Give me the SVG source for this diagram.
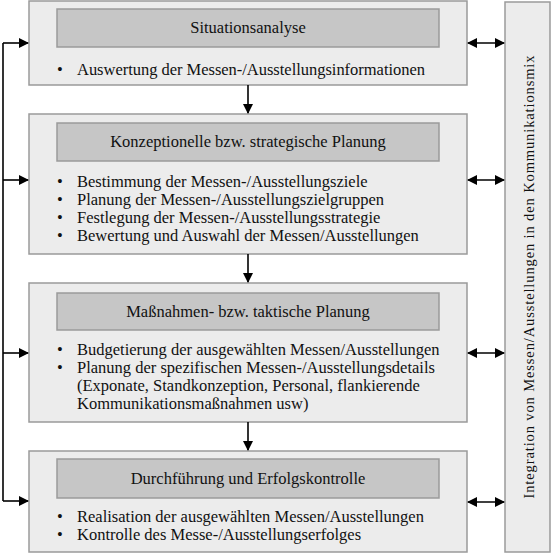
<svg xmlns="http://www.w3.org/2000/svg" width="552" height="554" viewBox="0 0 552 554">
<style>
.box{fill:#ececec;stroke:#9a9a9a;stroke-width:1.5}
.hdr{fill:#c6c6c6;stroke:#9a9a9a;stroke-width:1.5}
.t{font-family:"Liberation Serif","Times New Roman",serif;font-size:16.5px;fill:#111}
.c{text-anchor:middle}
.ln{stroke:#000;stroke-width:1.6;fill:none}
</style>
<defs>
<marker id="ah" markerWidth="10" markerHeight="10" refX="9" refY="5" orient="auto-start-reverse" markerUnits="userSpaceOnUse">
<path d="M0,0 L10,5 L0,10 z" fill="#000"/>
</marker>
</defs>
<g id="panel">
<rect class="box" x="505" y="2" width="45" height="550"/>
<text class="t c" style="font-size:14.5px" transform="translate(534,277) rotate(-90)" textLength="443">Integration von Messen/Ausstellungen in den Kommunikationsmix</text>
</g>
<g id="node1">
<rect class="box" x="29" y="1" width="438" height="84"/>
<rect class="hdr" x="57" y="9" width="382" height="38"/>
<text class="t c" x="248" y="33">Situationsanalyse</text>
<text class="t" x="57" y="75">•</text>
<text class="t" x="77" y="75" textLength="348">Auswertung der Messen-/Ausstellungsinformationen</text>
</g>
<g id="node2">
<rect class="box" x="29" y="114" width="438" height="140"/>
<rect class="hdr" x="57" y="123" width="382" height="38"/>
<text class="t c" x="248" y="147">Konzeptionelle bzw. strategische Planung</text>
<text class="t" x="57" y="187">•</text><text class="t" x="77" y="187">Bestimmung der Messen-/Ausstellungsziele</text>
<text class="t" x="57" y="205">•</text><text class="t" x="77" y="205">Planung der Messen-/Ausstellungszielgruppen</text>
<text class="t" x="57" y="223">•</text><text class="t" x="77" y="223">Festlegung der Messen-/Ausstellungsstrategie</text>
<text class="t" x="57" y="241">•</text><text class="t" x="77" y="241">Bewertung und Auswahl der Messen/Ausstellungen</text>
</g>
<g id="node3">
<rect class="box" x="29" y="283" width="438" height="139"/>
<rect class="hdr" x="57" y="293" width="382" height="37"/>
<text class="t c" x="248" y="317">Maßnahmen- bzw. taktische Planung</text>
<text class="t" x="57" y="355">•</text><text class="t" x="77" y="355">Budgetierung der ausgewählten Messen/Ausstellungen</text>
<text class="t" x="57" y="373">•</text><text class="t" x="77" y="373">Planung der spezifischen Messen-/Ausstellungsdetails</text>
<text class="t" x="77" y="391">(Exponate, Standkonzeption, Personal, flankierende</text>
<text class="t" x="77" y="409">Kommunikationsmaßnahmen usw)</text>
</g>
<g id="node4">
<rect class="box" x="29" y="451" width="438" height="101"/>
<rect class="hdr" x="57" y="459" width="382" height="39"/>
<text class="t c" x="248" y="484">Durchführung und Erfolgskontrolle</text>
<text class="t" x="57" y="522">•</text><text class="t" x="77" y="522">Realisation der ausgewählten Messen/Ausstellungen</text>
<text class="t" x="57" y="540">•</text><text class="t" x="77" y="540">Kontrolle des Messe-/Ausstellungserfolges</text>
</g>
<g id="connectors">
<line class="ln" x1="248" y1="85" x2="248" y2="113" marker-end="url(#ah)"/>
<line class="ln" x1="248" y1="254" x2="248" y2="282" marker-end="url(#ah)"/>
<line class="ln" x1="248" y1="422" x2="248" y2="450" marker-end="url(#ah)"/>
<polyline class="ln" points="3,501 3,43"/>
<line class="ln" x1="3" y1="43" x2="28" y2="43" marker-end="url(#ah)"/>
<line class="ln" x1="3" y1="180" x2="28" y2="180" marker-end="url(#ah)"/>
<line class="ln" x1="3" y1="353" x2="28" y2="353" marker-end="url(#ah)"/>
<line class="ln" x1="3" y1="501" x2="28" y2="501" marker-end="url(#ah)"/>
<line class="ln" x1="468" y1="43" x2="504" y2="43" marker-start="url(#ah)" marker-end="url(#ah)"/>
<line class="ln" x1="468" y1="180" x2="504" y2="180" marker-start="url(#ah)" marker-end="url(#ah)"/>
<line class="ln" x1="468" y1="353" x2="504" y2="353" marker-start="url(#ah)" marker-end="url(#ah)"/>
<line class="ln" x1="468" y1="502" x2="504" y2="502" marker-start="url(#ah)" marker-end="url(#ah)"/>
</g>
</svg>
